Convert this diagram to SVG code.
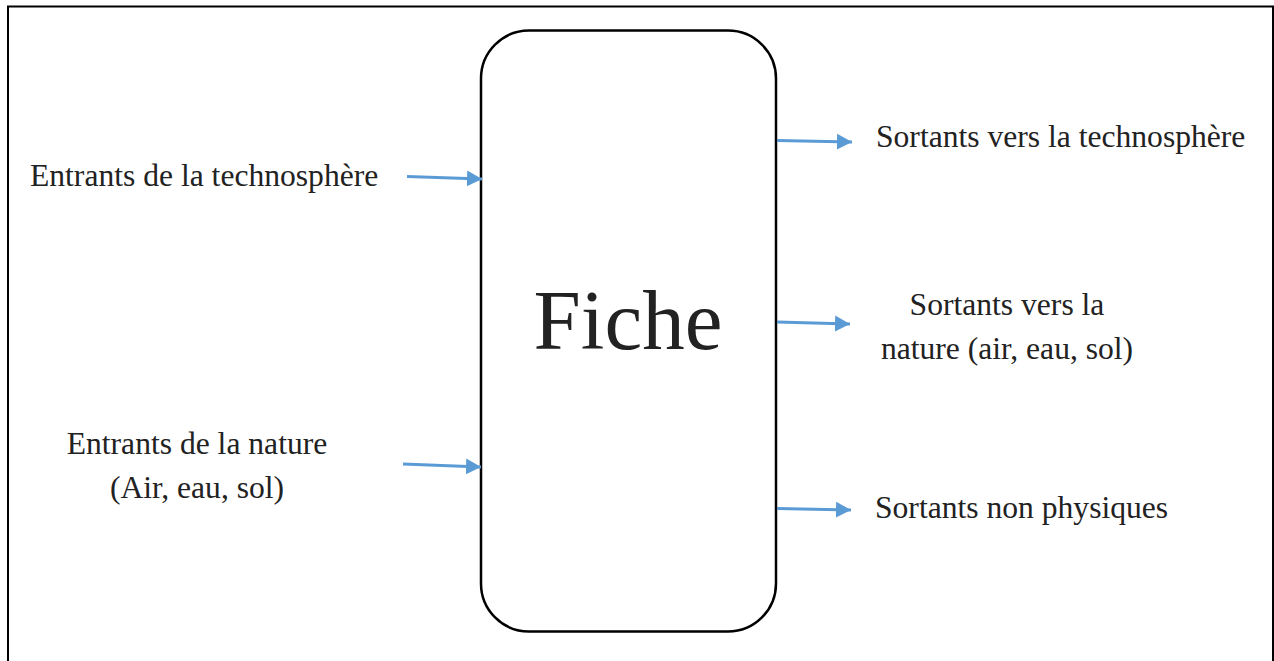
<svg xmlns="http://www.w3.org/2000/svg" width="1274" height="661" viewBox="0 0 1274 661">
<style>
.t{font-family:"Liberation Serif","Times New Roman",serif;font-size:31.6px;fill:#222}
.c{text-anchor:middle}
.a{stroke:#5b9bd5;stroke-width:3;fill:none;marker-end:url(#ah)}
</style>
<defs>
<marker id="ah" markerUnits="userSpaceOnUse" markerWidth="17" markerHeight="17" refX="15" refY="8.5" orient="auto">
<path d="M0,0.5 L15,8.5 L0,16.5 Z" fill="#5b9bd5"/>
</marker>
</defs>
<rect x="0" y="0" width="1274" height="661" fill="#fff"/>
<rect id="frame" x="8" y="6.5" width="1265" height="680" fill="none" stroke="#000" stroke-width="2"/>
<g id="fiche">
<rect x="481" y="30.5" width="295" height="601" rx="48" ry="48" fill="#fff" stroke="#000" stroke-width="2.5"/>
<text class="t c" x="628" y="349" style="font-size:85px">Fiche</text>
</g>
<g id="in-techno"><text class="t" x="30" y="185.5">Entrants de la technosphère</text></g>
<g id="in-nature"><text class="t c" x="197" y="453.5">Entrants de la nature</text><text class="t c" x="197" y="497.5">(Air, eau, sol)</text></g>
<g id="out-techno"><text class="t" x="876" y="147">Sortants vers la technosphère</text></g>
<g id="out-nature"><text class="t c" x="1007" y="314.5">Sortants vers la</text><text class="t c" x="1007" y="358.5">nature (air, eau, sol)</text></g>
<g id="out-nonphys"><text class="t" x="875" y="518">Sortants non physiques</text></g>
<g id="connectors">
<line class="a" x1="407" y1="176.5" x2="482" y2="179"/>
<line class="a" x1="403" y1="464" x2="481" y2="467"/>
<line class="a" x1="777" y1="140.5" x2="852" y2="142"/>
<line class="a" x1="777" y1="322" x2="850" y2="324"/>
<line class="a" x1="777" y1="508.5" x2="851" y2="510"/>
</g>
</svg>
